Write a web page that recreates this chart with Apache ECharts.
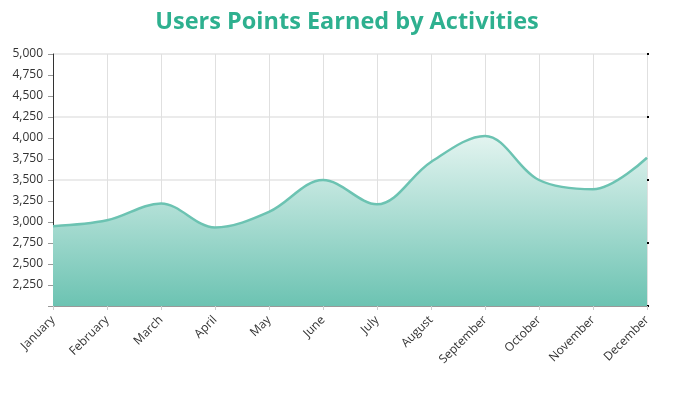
<!DOCTYPE html>
<html>
<head>
<meta charset="utf-8">
<script src="https://cdn.jsdelivr.net/npm/echarts@6/dist/echarts.min.js"></script>
<style>html,body{margin:0;padding:0;background:#fff;}#c{width:694px;height:394px;}</style>
</head>
<body>
<div id="c"></div>
<script>
const titleText = 'Users Points Earned by Activities';
const months = ['January','February','March','April','May','June','July','August','September','October','November','December'];
const points = [2950, 3020, 3220, 2935, 3120, 3500, 3210, 3715, 4025, 3500, 3390, 3765];
const yMin = 2000, yMax = 5000, yStep = 250;

const chart = echarts.init(document.getElementById('c'), null, {renderer: 'canvas'});
chart.setOption({
  animation: false,
  backgroundColor: '#fff',
  title: {
    text: titleText, left: 'center', top: 5,
    textStyle: {fontFamily: 'Open Sans', fontWeight: 'bold', fontSize: 23.5, color: '#2eb08f'}
  },
  grid: {left: 53, right: 47, top: 54, bottom: 88},
  xAxis: {
    type: 'category', data: months, boundaryGap: false,
    axisLine: {lineStyle: {color: '#999', width: 1}},
    axisTick: {show: true, length: 4, lineStyle: {color: '#ccc'}},
    axisLabel: {rotate: 45, fontFamily: 'Open Sans', fontSize: 12, color: '#333', margin: 12},
    splitLine: {show: true, lineStyle: {color: '#e0e0e0'}}
  },
  yAxis: [{
    type: 'value', min: yMin, max: yMax, interval: yStep,
    axisLine: {show: true, lineStyle: {color: '#333'}},
    axisTick: {show: true, length: 5, lineStyle: {color: '#999'}},
    axisLabel: {fontFamily: 'Open Sans', fontSize: 12, color: '#333', margin: 10,
      formatter: v => v === yMin ? '' : v.toLocaleString('en-US')},
    splitLine: {show: false}
  }, {
    type: 'value', min: 0, max: 4, interval: 1, position: 'right',
    axisLine: {show: false},
    axisTick: {show: true, length: 2, lineStyle: {color: '#000', width: 2}},
    axisLabel: {show: false},
    splitLine: {show: true, lineStyle: {color: '#ebebeb', width: 2}}
  }],
  series: [{
    type: 'line', data: points, smooth: 0.35, symbol: 'none', yAxisIndex: 0,
    lineStyle: {color: '#6cc3b2', width: 2.5},
    areaStyle: {
      origin: 'start', opacity: 1,
      color: new echarts.graphic.LinearGradient(0, 0, 0, 1, [
        {offset: 0, color: '#e3f4f0'},
        {offset: 1, color: '#6cc3b2'}
      ])
    }
  }]
});
</script>
</body>
</html>
